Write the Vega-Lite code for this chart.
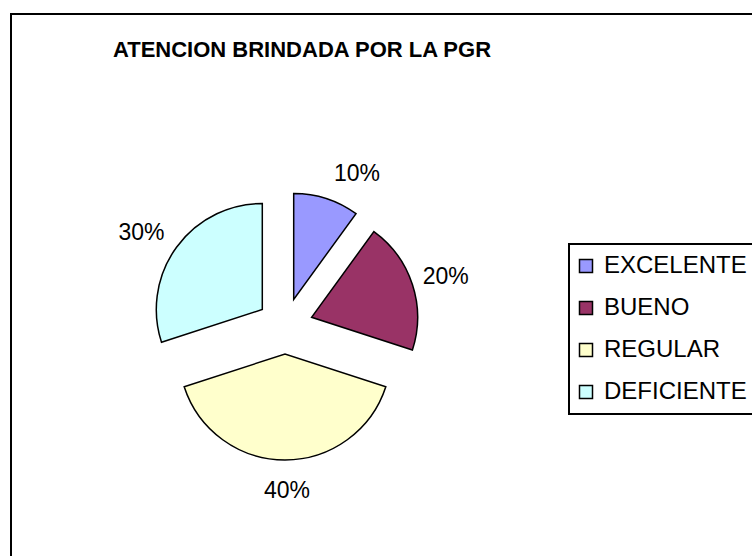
{
  "$schema": "https://vega.github.io/schema/vega-lite/v6.json",
  "width": 760,
  "height": 560,
  "autosize": {"type": "none"},
  "padding": {"left": 11, "top": 14, "right": 0, "bottom": 0},
  "background": "white",
  "config": {
    "view": {"stroke": null},
    "font": "Liberation Sans"
  },
  "title": {
    "text": "ATENCION BRINDADA POR LA PGR",
    "anchor": "middle",
    "frame": "group",
    "font": "Liberation Sans",
    "fontSize": 22,
    "fontWeight": "bold",
    "color": "black",
    "baseline": "alphabetic",
    "dx": -89,
    "offset": -66
  },
  "data": {
    "values": [
      {"categoria": "EXCELENTE", "porcentaje": 10, "etiqueta": "10%", "orden": 1},
      {"categoria": "BUENO", "porcentaje": 20, "etiqueta": "20%", "orden": 2},
      {"categoria": "REGULAR", "porcentaje": 40, "etiqueta": "40%", "orden": 3},
      {"categoria": "DEFICIENTE", "porcentaje": 30, "etiqueta": "30%", "orden": 4}
    ]
  },
  "transform": [
    {"stack": "porcentaje", "groupby": [], "sort": [{"field": "orden", "order": "ascending"}], "as": ["inicio", "fin"]}
  ],
  "layer": [
    {
      "data": {"values": [{"marco": "borde"}]},
      "mark": {"type": "rect", "fill": "transparent", "stroke": "black", "strokeWidth": 2},
      "encoding": {}
    },
    {
      "transform": [{"filter": "datum.categoria === 'EXCELENTE'"}],
      "mark": {"type": "arc", "radius": 106, "x": 274, "y": 312, "xOffset": 8.7, "yOffset": -26.6, "stroke": "black", "strokeWidth": 1.5},
      "encoding": {
        "theta": {"field": "inicio", "type": "quantitative", "scale": {"domain": [0, 100]}},
        "theta2": {"field": "fin"},
        "color": {
          "field": "categoria",
          "type": "nominal",
          "sort": ["EXCELENTE", "BUENO", "REGULAR", "DEFICIENTE"],
          "scale": {
            "domain": ["EXCELENTE", "BUENO", "REGULAR", "DEFICIENTE"],
            "range": ["#9999FF", "#993366", "#FFFFCC", "#CCFFFF"]
          },
          "legend": {
            "title": null,
            "orient": "none",
            "legendX": 558,
            "legendY": 230,
            "strokeColor": "black",
            "fillColor": "white",
            "padding": 10,
            "symbolType": "square",
            "symbolSize": 169,
            "symbolOffset": -5,
            "symbolStrokeColor": "black",
            "symbolStrokeWidth": 1.5,
            "symbolOpacity": 1,
            "labelFont": "Liberation Sans",
            "labelFontSize": 24,
            "labelColor": "black",
            "labelOffset": 6,
            "labelLimit": 300,
            "rowPadding": 18,
            "encode": {
              "legend": {"update": {"strokeWidth": {"value": 2}}},
              "symbols": {"update": {"stroke": {"value": "black"}, "strokeWidth": {"value": 1.5}}}
            }
          }
        }
      }
    },
    {
      "transform": [{"filter": "datum.categoria === 'BUENO'"}],
      "mark": {"type": "arc", "radius": 106, "x": 274, "y": 312, "xOffset": 26.6, "yOffset": -8.7, "stroke": "black", "strokeWidth": 1.5},
      "encoding": {
        "theta": {"field": "inicio", "type": "quantitative", "scale": {"domain": [0, 100]}},
        "theta2": {"field": "fin"},
        "color": {"field": "categoria", "type": "nominal", "sort": ["EXCELENTE", "BUENO", "REGULAR", "DEFICIENTE"], "scale": {"domain": ["EXCELENTE", "BUENO", "REGULAR", "DEFICIENTE"], "range": ["#9999FF", "#993366", "#FFFFCC", "#CCFFFF"]}}
      }
    },
    {
      "transform": [{"filter": "datum.categoria === 'REGULAR'"}],
      "mark": {"type": "arc", "radius": 106, "x": 274, "y": 312, "xOffset": 0, "yOffset": 28, "stroke": "black", "strokeWidth": 1.5},
      "encoding": {
        "theta": {"field": "inicio", "type": "quantitative", "scale": {"domain": [0, 100]}},
        "theta2": {"field": "fin"},
        "color": {"field": "categoria", "type": "nominal", "sort": ["EXCELENTE", "BUENO", "REGULAR", "DEFICIENTE"], "scale": {"domain": ["EXCELENTE", "BUENO", "REGULAR", "DEFICIENTE"], "range": ["#9999FF", "#993366", "#FFFFCC", "#CCFFFF"]}}
      }
    },
    {
      "transform": [{"filter": "datum.categoria === 'DEFICIENTE'"}],
      "mark": {"type": "arc", "radius": 106, "x": 274, "y": 312, "xOffset": -22.7, "yOffset": -16.5, "stroke": "black", "strokeWidth": 1.5},
      "encoding": {
        "theta": {"field": "inicio", "type": "quantitative", "scale": {"domain": [0, 100]}},
        "theta2": {"field": "fin"},
        "color": {"field": "categoria", "type": "nominal", "sort": ["EXCELENTE", "BUENO", "REGULAR", "DEFICIENTE"], "scale": {"domain": ["EXCELENTE", "BUENO", "REGULAR", "DEFICIENTE"], "range": ["#9999FF", "#993366", "#FFFFCC", "#CCFFFF"]}}
      }
    },
    {
      "transform": [{"filter": "datum.categoria === 'EXCELENTE'"}],
      "mark": {"type": "text", "radius": 168, "x": 274, "y": 312, "thetaOffset": 0.4424, "fontSize": 23, "font": "Liberation Sans", "align": "center", "baseline": "middle", "color": "black"},
      "encoding": {
        "theta": {"field": "inicio", "type": "quantitative", "scale": {"domain": [0, 100]}},
        "text": {"field": "etiqueta"}
      }
    },
    {
      "transform": [{"filter": "datum.categoria === 'BUENO'"}],
      "mark": {"type": "text", "radius": 168, "x": 274, "y": 312, "thetaOffset": 0.647, "fontSize": 23, "font": "Liberation Sans", "align": "center", "baseline": "middle", "color": "black"},
      "encoding": {
        "theta": {"field": "inicio", "type": "quantitative", "scale": {"domain": [0, 100]}},
        "text": {"field": "etiqueta"}
      }
    },
    {
      "transform": [{"filter": "datum.categoria === 'REGULAR'"}],
      "mark": {"type": "text", "radius": 165, "x": 274, "y": 312, "thetaOffset": 1.245, "fontSize": 23, "font": "Liberation Sans", "align": "center", "baseline": "middle", "color": "black"},
      "encoding": {
        "theta": {"field": "inicio", "type": "quantitative", "scale": {"domain": [0, 100]}},
        "text": {"field": "etiqueta"}
      }
    },
    {
      "transform": [{"filter": "datum.categoria === 'DEFICIENTE'"}],
      "mark": {"type": "text", "radius": 171, "x": 274, "y": 312, "thetaOffset": 0.889, "fontSize": 23, "font": "Liberation Sans", "align": "center", "baseline": "middle", "color": "black"},
      "encoding": {
        "theta": {"field": "inicio", "type": "quantitative", "scale": {"domain": [0, 100]}},
        "text": {"field": "etiqueta"}
      }
    }
  ]
}
